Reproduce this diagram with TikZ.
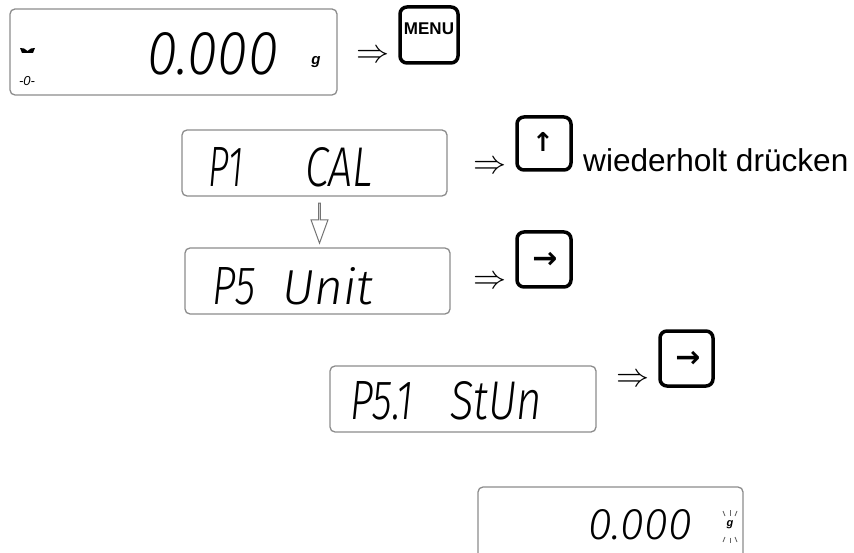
\documentclass[tikz,border=0pt]{standalone}
\usepackage{fontspec}
\usepackage{graphicx}
\usetikzlibrary{shapes.arrows,calc}
\newfontfamily\lcdfont{Fira Sans Light Italic}
\newfontfamily\keyfont{Liberation Sans}
\newfontfamily\symfont{DejaVu Sans}
\newcommand\lcdtxt[3]{\resizebox{#1pt}{#2pt}{\lcdfont #3}}
\newcommand\implies{\scalebox{3.3}{$\Rightarrow$}}
\begin{document}
\begin{tikzpicture}[x=1pt,y=-1pt,
  lcd/.style={draw=black!45, line width=1.3pt, rounded corners=5pt, inner sep=0pt},
  key/.style={draw=black, line width=3.5pt, rounded corners=7pt, inner sep=0pt},
  seg/.style={inner sep=0pt, anchor=south west},
  imp/.style={inner sep=0pt},
  ray/.style={draw=black!60, line width=0.9pt},
  hollow/.style={single arrow, draw=black!55, line width=1pt, fill=white,
    minimum height=40pt, minimum width=17pt, single arrow head extend=4.5pt,
    single arrow tip angle=40, inner sep=0pt}
  ]
\useasboundingbox (0,0) rectangle (854,553);

% displays
\node[lcd, minimum width=327pt, minimum height=86pt] (d1) at (173.5,52) {};
\node[lcd, minimum width=265pt, minimum height=66pt] (d2) at (314.5,163) {};
\node[lcd, minimum width=265pt, minimum height=66pt] (d3) at (317.5,281) {};
\node[lcd, minimum width=266pt, minimum height=66pt] (d4) at (463,399) {};
\node[lcd, minimum width=265pt, minimum height=73pt] (d5) at (610.5,523.5) {};

% display texts
\node[seg] (t1) at (147,75) {\lcdtxt{131}{42}{0.000}};
\node[inner sep=0pt, font=\keyfont\bfseries\itshape\fontsize{15}{15}\selectfont] (g1) at (316,62) {g};
\fill (20,48) -- (24,48.5) -- (27.5,51) -- (31,48.5) -- (35,48) -- (33,53) -- (22,53) -- cycle;
\node[inner sep=0pt, font=\keyfont\itshape\fontsize{13}{13}\selectfont] (z1) at (27,81) {-0-};

\node[seg] (t2a) at (208,187) {\lcdtxt{35}{39}{P1}};
\node[seg] (t2b) at (305,187) {\lcdtxt{68}{39}{CAL}};

\node[seg] (t3a) at (212,305) {\lcdtxt{43}{37}{P5}};
\node[seg] (t3b) at (282,305) {\lcdtxt{91}{37}{Unit}};

\node[seg] (t4a) at (350,420) {\lcdtxt{63}{38}{P5.1}};
\node[seg] (t4b) at (450,420) {\lcdtxt{92}{38}{StUn}};

\node[seg] (t5) at (588,540) {\lcdtxt{104}{30}{0.000}};
\node[inner sep=0pt, font=\keyfont\bfseries\itshape\fontsize{11}{11}\selectfont] (g5) at (730,525) {g};
\draw[ray] (723,511) -- (725,516);
\draw[ray] (730,510) -- (730,515.5);
\draw[ray] (737,511) -- (735,516);
\draw[ray] (725,537) -- (723,542);
\draw[ray] (730,537.5) -- (730,543);
\draw[ray] (735,537) -- (737,542);

% implication arrows
\node[imp] (i1) at (373,56) {\implies};
\node[imp] (i2) at (490,167) {\implies};
\node[imp] (i3) at (490,282) {\implies};
\node[imp] (i4) at (632.5,380) {\implies};

% keys
\node[key, minimum width=58pt, minimum height=56pt] (kmenu) at (429,35) {};
\node[inner sep=0pt, font=\keyfont\bfseries\fontsize{17}{17}\selectfont] (lmenu) at (429,29) {MENU};
\node[key, minimum width=54pt, minimum height=53pt] (kup) at (544,143.5) {};
\node[inner sep=0pt, font=\symfont\bfseries\fontsize{26}{26}\selectfont] (lup) at (543,142) {↑};
\node[key, minimum width=54pt, minimum height=55pt] (kr1) at (544,259.5) {};
\node[inner sep=0pt, font=\symfont\bfseries\fontsize{30}{30}\selectfont] (lr1) at (545,260) {→};
\node[key, minimum width=53pt, minimum height=55pt] (kr2) at (686.5,358.5) {};
\node[inner sep=0pt, font=\symfont\bfseries\fontsize{30}{30}\selectfont] (lr2) at (688,359) {→};

\node[inner sep=0pt, anchor=base west, font=\keyfont\fontsize{31.6}{36}\selectfont] (txt) at (583,172) {wiederholt drücken};

% hollow down arrow between displays
\node[hollow, rotate=-90] (ha) at ($($(d2.south)!0.5!(d3.north)$)+(3.5,0)$) {};
\end{tikzpicture}
\end{document}
